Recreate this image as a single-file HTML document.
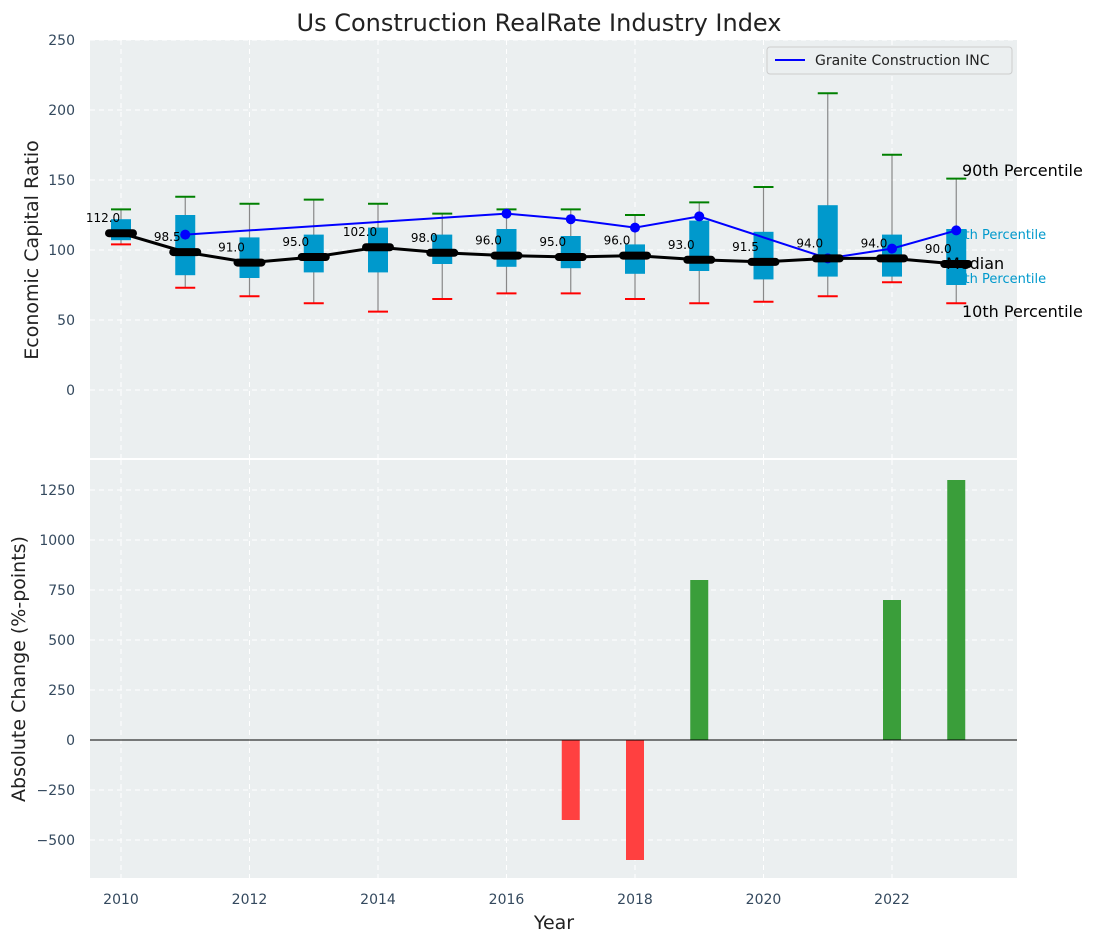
<!DOCTYPE html>
<html><head><meta charset="utf-8"><style>
body{margin:0;background:#fff;font-family:"Liberation Sans","DejaVu Sans",sans-serif}
svg text{font-family:"DejaVu Sans","Liberation Sans",sans-serif}
</style></head><body>
<svg id="c" width="1097" height="942" xmlns="http://www.w3.org/2000/svg"></svg>
<script>
const years=[2010,2011,2012,2013,2014,2015,2016,2017,2018,2019,2020,2021,2022,2023];
const p90=[129,138,133,136,133,126,129,129,125,134,145,212,168,151];
const p10=[104,73,67,62,56,65,69,69,65,62,63,67,77,62];
const q75=[122,125,109,111,116,111,115,110,104,121,113,132,111,115];
const q25=[107,82,80,84,84,90,88,87,83,85,79,81,81,75];
const medians=[112,98.5,91,95,102,98,96,95,96,93,91.5,94,94,90];
const graniteYears=[2011,2016,2017,2018,2019,2021,2022,2023];
const graniteVals=[111,126,122,116,124,94,101,114];
const changeYears=[2017,2018,2019,2022,2023];
const changeVals=[-400,-600,800,700,1300];
const yTicksTop=[0,50,100,150,200,250];
const yTicksBot=[-500,-250,0,250,500,750,1000,1250];
const xTicks=[2010,2012,2014,2016,2018,2020,2022];

const S=document.getElementById('c'),NS='http://www.w3.org/2000/svg';
function el(t,a,p){const e=document.createElementNS(NS,t);for(const k in a)e.setAttribute(k,a[k]);(p||S).appendChild(e);return e;}
const L=90,R=1017,T1=40,B1=458,T2=460,B2=878;
const x=v=>121+(v-2010)*64.25;
const y1=v=>390-v*1.4;
const y2=v=>740-v*0.2;

let t=el('text',{x:539,y:31,'text-anchor':'middle','font-size':24,fill:'#222'});t.textContent='Us Construction RealRate Industry Index';


let bg=el('rect',{x:L,y:T1,width:R-L,height:B1-T1,fill:'#ebeff0'});

bg=el('rect',{x:L,y:T2,width:R-L,height:B2-T2,fill:'#ebeff0'});


xTicks.forEach(v=>{
 el('line',{x1:x(v),x2:x(v),y1:T1,y2:B1,stroke:'#fff','stroke-dasharray':'5,4','stroke-width':1});
 el('line',{x1:x(v),x2:x(v),y1:T2,y2:B2,stroke:'#fff','stroke-dasharray':'5,4','stroke-width':1});
 const tx=el('text',{x:x(v),y:904,'text-anchor':'middle','font-size':14,fill:'#34495e'});tx.textContent=v;
 
});
yTicksTop.forEach(v=>{
 el('line',{x1:L,x2:R,y1:y1(v),y2:y1(v),stroke:'#fff','stroke-dasharray':'5,4'});
 const tx=el('text',{x:75,y:y1(v)+5,'text-anchor':'end','font-size':14,fill:'#34495e'});tx.textContent=v;
 
});
yTicksBot.forEach(v=>{
 el('line',{x1:L,x2:R,y1:y2(v),y2:y2(v),stroke:'#fff','stroke-dasharray':'5,4'});
 const tx=el('text',{x:75,y:y2(v)+5,'text-anchor':'end','font-size':14,fill:'#34495e'});tx.textContent=v<0?'\u2212'+(-v):v;
 
});

function txt(s,a,name){const e=el('text',a);e.textContent=s;return e;}
txt('75th Percentile',{x:948,y:239,'font-size':13,fill:'#0099cc'},'p75-label');
txt('25th Percentile',{x:948,y:283,'font-size':13,fill:'#0099cc'},'p25-label');

years.forEach((yr,i)=>{
 const cx=x(yr);
 const w=el('line',{x1:cx,x2:cx,y1:y1(p90[i]),y2:y1(p10[i]),stroke:'#888','stroke-width':1.2});
 
 const b=el('rect',{x:cx-10,y:y1(q75[i]),width:20,height:y1(q25[i])-y1(q75[i]),fill:'#0099cc'});
 
 const g=el('line',{x1:cx-10,x2:cx+10,y1:y1(p90[i]),y2:y1(p90[i]),stroke:'green','stroke-width':2});
 
 const r=el('line',{x1:cx-10,x2:cx+10,y1:y1(p10[i]),y2:y1(p10[i]),stroke:'red','stroke-width':2});
 
});
const gl=el('polyline',{points:graniteYears.map((yr,i)=>x(yr)+','+y1(graniteVals[i])).join(' '),fill:'none',stroke:'blue','stroke-width':2});

graniteYears.forEach((yr,i)=>{const c=el('circle',{cx:x(yr),cy:y1(graniteVals[i]),r:5,fill:'blue'});
 });
const ml=el('polyline',{points:years.map((yr,i)=>x(yr)+','+y1(medians[i])).join(' '),fill:'none',stroke:'#000','stroke-width':3});

years.forEach((yr,i)=>{
 const m=el('line',{x1:x(yr)-12,x2:x(yr)+12,y1:y1(medians[i]),y2:y1(medians[i]),stroke:'#000','stroke-width':8,'stroke-linecap':'round'});
 
 txt(medians[i].toFixed(1),{x:x(yr)-18,y:y1(medians[i])-11,'text-anchor':'middle','font-size':12,fill:'#000'},'median-value-label');
});
txt('90th Percentile',{x:962,y:176,'font-size':16,fill:'#000'},'p90-label');
txt('Median',{x:946,y:269,'font-size':16,fill:'#000'},'median-label');
txt('10th Percentile',{x:962,y:317,'font-size':16,fill:'#000'},'p10-label');

const lg=el('g',{});
el('rect',{x:767,y:47,width:245,height:27,rx:3,fill:'#ebeff0',stroke:'#ccc'},lg);
el('line',{x1:775,x2:805,y1:60,y2:60,stroke:'blue','stroke-width':2},lg);
const lt=el('text',{x:815,y:65,'font-size':14,fill:'#222'},lg);lt.textContent='Granite Construction INC';


changeYears.forEach((yr,i)=>{
 const v=changeVals[i];
 const b=el('rect',{x:x(yr)-9,y:Math.min(y2(v),y2(0)),width:18,height:Math.abs(y2(v)-y2(0)),fill:v>=0?'#3a9e3a':'#ff4040'});
 
});
el('line',{x1:L,x2:R,y1:y2(0),y2:y2(0),stroke:'#000','stroke-width':1});

txt('Economic Capital Ratio',{x:38,y:250,'text-anchor':'middle','font-size':19,fill:'#222',transform:'rotate(-90 38 250)'},'y-axis-title-top');
txt('Absolute Change (%-points)',{x:25,y:669,'text-anchor':'middle','font-size':19,fill:'#222',transform:'rotate(-90 25 669)'},'y-axis-title-bottom');
txt('Year',{x:554,y:929,'text-anchor':'middle','font-size':19,fill:'#222'},'x-axis-title');
</script>
</body></html>
